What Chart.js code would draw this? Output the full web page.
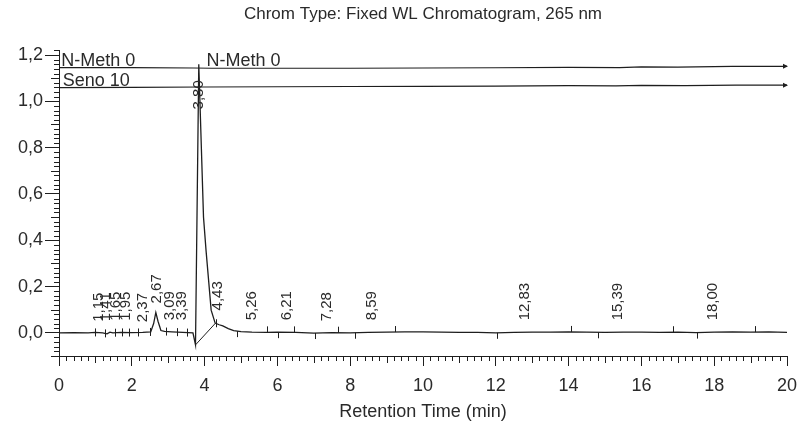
<!DOCTYPE html>
<html>
<head>
<meta charset="utf-8">
<script src="https://cdn.jsdelivr.net/npm/chart.js@4/dist/chart.umd.min.js"></script>
<style>
  html, body { margin: 0; padding: 0; background: #ffffff; }
  #wrap { width: 797px; height: 423px; position: relative; }
</style>
</head>
<body>
<div id="wrap"><canvas id="c" width="797" height="423"></canvas></div>
<script>
// ---------- data ----------
const chartTitle = 'Chrom Type: Fixed WL Chromatogram, 265 nm';
const xAxisTitle = 'Retention Time (min)';
const xTickValues = [0, 2, 4, 6, 8, 10, 12, 14, 16, 18, 20];
const yTickValues = [0.0, 0.2, 0.4, 0.6, 0.8, 1.0, 1.2];

// main trace (retention time in min, absorbance)
const traceTime = [0.00, 0.40, 0.80, 1.00, 1.20, 1.32, 1.40, 1.48, 1.70, 2.00, 2.30, 2.52, 2.60, 2.66, 2.72, 2.80, 2.90, 3.10, 3.40, 3.68, 3.75, 3.84, 3.97, 4.04, 4.18, 4.29, 4.40, 4.50, 4.65, 4.80, 5.00, 5.30, 5.70, 6.00, 6.50, 7.00, 7.50, 8.00, 8.50, 9.00, 9.50, 10.0, 10.5, 11.0, 11.5, 12.0, 12.5, 13.0, 13.5, 14.0, 14.5, 15.0, 15.5, 16.0, 16.5, 17.0, 17.5, 18.0, 18.5, 19.0, 19.5, 20.0];
const traceAbs  = [0.000, 0.001, 0.000, 0.002, 0.000, -0.004, 0.003, 0.000, 0.002, 0.001, 0.002, 0.004, 0.040, 0.088, 0.050, 0.010, 0.006, 0.004, 0.002, 0.000, -0.052, 1.160, 0.500, 0.355, 0.098, 0.042, 0.035, 0.030, 0.018, 0.010, 0.005, 0.003, 0.002, 0.003, 0.002, -0.001, 0.001, 0.000, 0.002, 0.003, 0.004, 0.004, 0.003, 0.002, 0.002, 0.000, 0.002, 0.003, 0.003, 0.004, 0.003, 0.002, 0.003, 0.003, 0.002, 0.003, 0.001, 0.003, 0.004, 0.003, 0.004, 0.002];

// drop / tangent baseline under the main peak
const baseTime = [3.75, 4.30];
const baseAbs  = [-0.052, 0.042];

// overlaid traces (offset)
const nmethName = 'N-Meth 0';
const nmethTime = [0, 2, 3.7, 4.2, 8, 10, 12, 14, 15.4, 16, 17, 18.5, 20];
const nmethAbs  = [1.146, 1.146, 1.144, 1.143, 1.143, 1.144, 1.145, 1.147, 1.146, 1.149, 1.148, 1.151, 1.151];
const senoName = 'Seno 10';
const senoTime = [0, 2, 4, 6, 8, 10, 12, 14, 15.3, 16, 17.2, 18.6, 20];
const senoAbs  = [1.059, 1.060, 1.062, 1.063, 1.064, 1.065, 1.066, 1.068, 1.067, 1.069, 1.068, 1.070, 1.070];

// peak retention-time labels
const peakLabels = ['1,15', '1,41', '1,65', '1,95', '2,37', '2,67', '3,09', '3,39', '3,80', '4,43', '5,26', '6,21', '7,28', '8,59', '12,83', '15,39', '18,00'];
const peakLabelTime = [1.09, 1.29, 1.57, 1.83, 2.31, 2.69, 3.05, 3.37, 3.84, 4.37, 5.31, 6.26, 7.35, 8.59, 12.80, 15.36, 17.95];
const peakLabelAbs  = [0.048, 0.050, 0.052, 0.052, 0.046, 0.127, 0.054, 0.054, 0.965, 0.097, 0.054, 0.054, 0.050, 0.054, 0.054, 0.054, 0.054];

// integration event marks on the baseline (time, direction: 1 up, -1 down, 0 cross)
const markTime = [0.98, 1.27, 1.55, 1.73, 1.93, 2.18, 2.51, 2.95, 3.25, 3.52, 4.30, 4.90, 5.72, 6.03, 6.46, 7.04, 7.67, 8.14, 9.24, 12.03, 14.06, 14.81, 16.86, 17.52, 19.11];
const markDir  = [0, 0, 0, 0, 0, 0, 0, 0, 0, 0, 0, -1, 1, -1, 1, -1, 1, -1, 1, -1, 1, -1, 1, -1, 1];

// ---------- helpers ----------
const FONT = '"Liberation Sans", Arial, Helvetica, sans-serif';
const INK = '#1e1e1e';
const TXT = '#2a2a2a';
const pts = (xs, ys) => xs.map((v, i) => ({ x: v, y: ys[i] }));
const fmt = v => v.toFixed(1).replace('.', ',');
function traceAt(t) {
  for (let i = 1; i < traceTime.length; i++) {
    if (t <= traceTime[i]) {
      const t0 = traceTime[i - 1], t1 = traceTime[i];
      const f = (t - t0) / (t1 - t0);
      return traceAbs[i - 1] + f * (traceAbs[i] - traceAbs[i - 1]);
    }
  }
  return traceAbs[traceAbs.length - 1];
}

const annotations = {
  id: 'annotations',
  afterDatasetsDraw(chart) {
    const { ctx, chartArea: a } = chart;
    const x = chart.scales.x, y = chart.scales.y;
    ctx.save();
    ctx.strokeStyle = INK;
    ctx.lineWidth = 1;

    // minor ticks on x axis (every 0.2 min, slightly longer at odd minutes)
    ctx.beginPath();
    for (let i = 0; i <= 100; i++) {
      if (i % 10 === 0) continue;
      const px = Math.round(x.getPixelForValue(i * 0.2)) + 0.5;
      const len = (i % 5 === 0) ? 7 : 5;
      ctx.moveTo(px, a.bottom);
      ctx.lineTo(px, a.bottom + len);
    }
    // minor ticks on y axis (every 0.02)
    for (let j = -5; j <= 61; j++) {
      if (j % 10 === 0) continue;
      const py = Math.round(y.getPixelForValue(j * 0.02)) + 0.5;
      if (py < a.top - 0.5 || py > a.bottom + 0.5) continue;
      const len = (j % 5 === 0) ? 8 : 5;
      ctx.moveTo(a.left, py);
      ctx.lineTo(a.left - len, py);
    }
    ctx.stroke();

    // integration marks
    ctx.beginPath();
    markTime.forEach((t, i) => {
      const px = Math.round(x.getPixelForValue(t)) + 0.5;
      const py = y.getPixelForValue(traceAt(t));
      const d = markDir[i];
      if (d === 1) { ctx.moveTo(px, py); ctx.lineTo(px, py - 6); }
      else if (d === -1) { ctx.moveTo(px, py); ctx.lineTo(px, py + 6); }
      else { ctx.moveTo(px, py - 4); ctx.lineTo(px, py + 4); }
    });
    ctx.stroke();

    // arrow heads at the end of the overlaid traces
    ctx.fillStyle = INK;
    [[nmethTime, nmethAbs], [senoTime, senoAbs]].forEach(([ts, vs]) => {
      const px = x.getPixelForValue(ts[ts.length - 1]);
      const py = y.getPixelForValue(vs[vs.length - 1]);
      ctx.beginPath();
      ctx.moveTo(px + 1, py);
      ctx.lineTo(px - 4, py - 2.5);
      ctx.lineTo(px - 4, py + 2.5);
      ctx.closePath();
      ctx.fill();
    });

    // overlay names
    ctx.fillStyle = TXT;
    ctx.font = '18px ' + FONT;
    ctx.textAlign = 'left';
    ctx.textBaseline = 'alphabetic';
    ctx.fillText(nmethName, x.getPixelForValue(0.06), y.getPixelForValue(nmethAbs[0]) - 2);
    ctx.fillText(senoName, x.getPixelForValue(0.10), y.getPixelForValue(senoAbs[0]) - 2);
    ctx.fillText(nmethName, x.getPixelForValue(4.05), y.getPixelForValue(nmethAbs[3]) - 2);

    // peak labels, rotated
    ctx.font = '15px ' + FONT;
    ctx.textBaseline = 'middle';
    peakLabels.forEach((s, i) => {
      const px = x.getPixelForValue(peakLabelTime[i]);
      const py = y.getPixelForValue(peakLabelAbs[i]);
      ctx.save();
      ctx.translate(px, py);
      ctx.rotate(-Math.PI / 2);
      ctx.fillText(s, 0, 0);
      ctx.restore();
    });
    ctx.restore();
  }
};

const lineDs = (data, w) => ({
  data, borderColor: INK, borderWidth: w, pointRadius: 0, tension: 0, fill: false
});

new Chart(document.getElementById('c'), {
  type: 'line',
  data: {
    datasets: [
      lineDs(pts(traceTime, traceAbs), 1.3),
      lineDs(pts(baseTime, baseAbs), 1),
      lineDs(pts(nmethTime, nmethAbs), 1.2),
      lineDs(pts(senoTime, senoAbs), 1.2)
    ]
  },
  options: {
    responsive: false,
    animation: false,
    layout: { padding: { left: 0, right: 10, top: 0, bottom: 0 } },
    plugins: {
      legend: { display: false },
      tooltip: { enabled: false },
      title: {
        display: true,
        text: chartTitle,
        color: TXT,
        fullSize: false,
        font: { family: FONT, size: 17, weight: 'normal' },
        padding: { top: 4, bottom: 26 }
      }
    },
    scales: {
      x: {
        type: 'linear',
        min: 0, max: 20,
        afterBuildTicks: s => { s.ticks = xTickValues.map(v => ({ value: v })); },
        afterFit: s => { s.height = 67; s.paddingRight = 0; s.paddingLeft = 0; },
        border: { display: true, color: INK, width: 1 },
        grid: { drawOnChartArea: false, drawTicks: true, tickLength: 10, tickColor: INK },
        ticks: { color: TXT, font: { family: FONT, size: 18 }, padding: 9, maxRotation: 0, callback: v => String(v) },
        title: { display: true, text: xAxisTitle, color: TXT, font: { family: FONT, size: 18 }, padding: { top: 0, bottom: 0 } }
      },
      y: {
        type: 'linear',
        min: -0.1, max: 1.22,
        afterBuildTicks: s => { s.ticks = yTickValues.map(v => ({ value: v })); },
        afterFit: s => { s.width = 59; },
        border: { display: true, color: INK, width: 1 },
        grid: { drawOnChartArea: false, drawTicks: true, tickLength: 14, tickColor: INK },
        ticks: { color: TXT, font: { family: FONT, size: 18 }, padding: 2, callback: v => fmt(v) }
      }
    }
  },
  plugins: [annotations]
});
</script>
</body>
</html>
